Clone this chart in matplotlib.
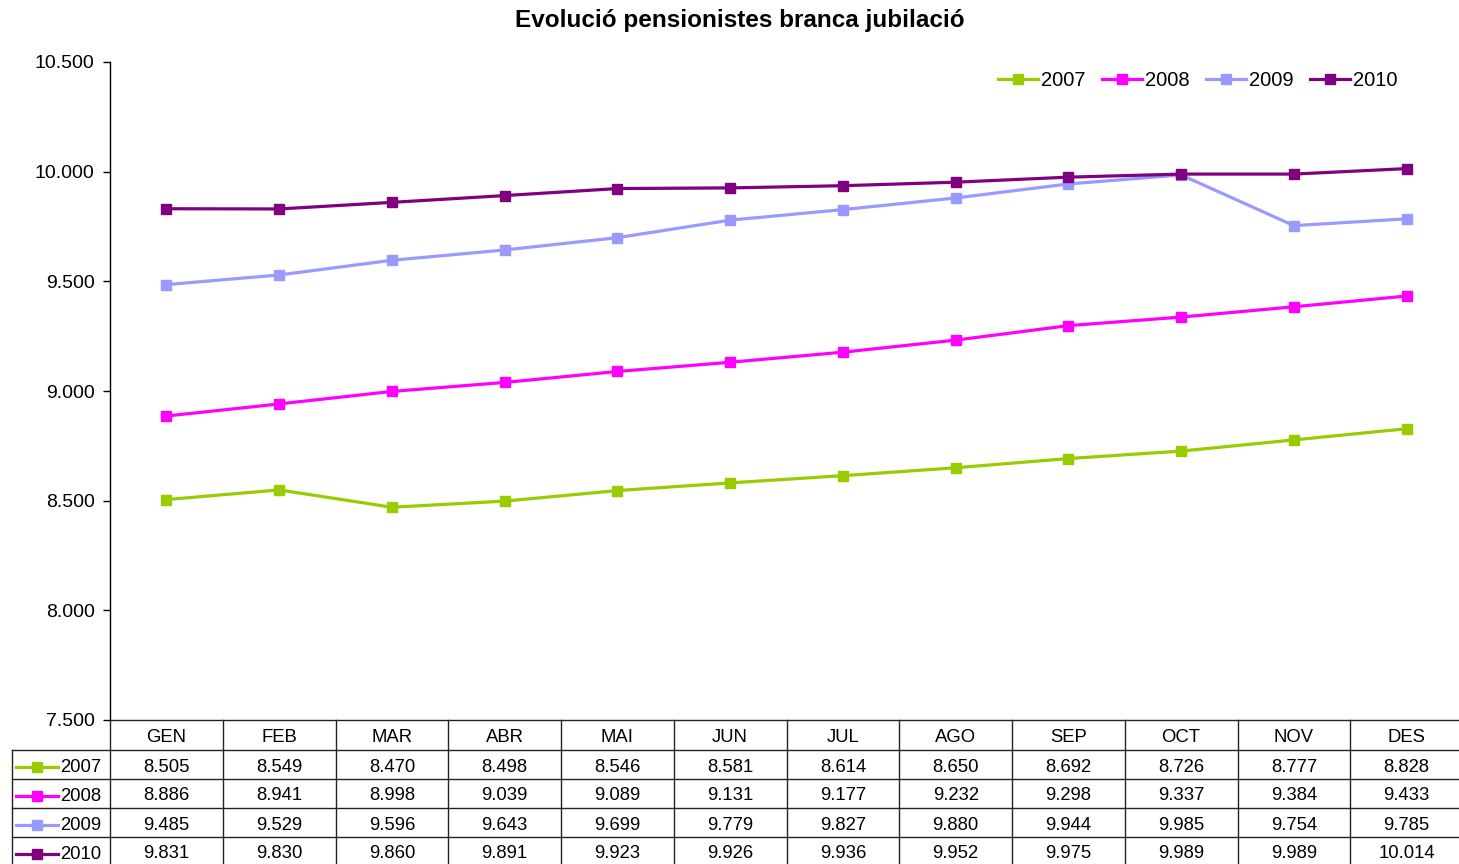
import matplotlib.pyplot as plt
import numpy as np
from matplotlib.lines import Line2D
from matplotlib.ticker import FuncFormatter

plt.rcParams['font.family'] = ['Liberation Sans', 'DejaVu Sans']

months = ['GEN', 'FEB', 'MAR', 'ABR', 'MAI', 'JUN', 'JUL', 'AGO', 'SEP', 'OCT', 'NOV', 'DES']
years = ['2007', '2008', '2009', '2010']
v2007 = [8505, 8549, 8470, 8498, 8546, 8581, 8614, 8650, 8692, 8726, 8777, 8828]
v2008 = [8886, 8941, 8998, 9039, 9089, 9131, 9177, 9232, 9298, 9337, 9384, 9433]
v2009 = [9485, 9529, 9596, 9643, 9699, 9779, 9827, 9880, 9944, 9985, 9754, 9785]
v2010 = [9831, 9830, 9860, 9891, 9923, 9926, 9936, 9952, 9975, 9989, 9989, 10014]
series = [v2007, v2008, v2009, v2010]
colors = ['#99CC00', '#FF00FF', '#9999FF', '#800080']


def fmt(v):
    return f'{v:,.0f}'.replace(',', '.')


W, H = 1459, 864
fig = plt.figure(figsize=(W / 100, H / 100), dpi=100)
left, right, top, bottom = 110, 1463, 62, 720
ax = fig.add_axes([left / W, 1 - bottom / H, (right - left) / W, (bottom - top) / H])
ax_h = bottom - top
ax_w = right - left

x = np.arange(len(months))
for vals, col, yr in zip(series, colors, years):
    ax.plot(x, vals, color=col, lw=2.3, marker='s', ms=6.5, label=yr, clip_on=False)

ax.set_xlim(-0.5, 11.5)
ax.set_ylim(7500, 10500)
ax.set_yticks(np.arange(7500, 10501, 500))
ax.yaxis.set_major_formatter(FuncFormatter(lambda v, p: fmt(v)))
ax.tick_params(axis='y', labelsize=14, length=5, width=1, pad=6)
ax.set_xticks([])
for s in ['top', 'right', 'bottom']:
    ax.spines[s].set_visible(False)
ax.spines['left'].set_linewidth(1)

ax.legend(loc='upper right', bbox_to_anchor=(0.962, 1.008), ncol=4, frameon=False,
          fontsize=14.5, handlelength=2.0, handletextpad=0.15, columnspacing=0.8,
          markerscale=1.0, borderaxespad=0.3)

fig.suptitle('Evolució pensionistes branca jubilació', fontsize=17.5, fontweight='bold',
             x=740 / W, y=1 - 20 / H, va='center')

# data table under the plot
trans = ax.get_xaxis_transform()
header_h = 30
row_h = 29


def ay(px):
    # pixels below the bottom of the plot area -> axes fraction
    return -px / ax_h


def axx(px):
    return (px - left) / ax_w


lc = '#222222'
lw = 1.0
bottom_px = H - bottom + 5
# horizontal lines
ax.plot([-0.5, 11.5], [0, 0], transform=trans, color=lc, lw=lw, clip_on=False)
for i in range(len(years) + 1):
    y = ay(header_h + i * row_h)
    ax.plot([axx(12), 1.0], [y, y], transform=ax.transAxes, color=lc, lw=lw, clip_on=False)
# vertical lines
for b in np.arange(-0.5, 12.0, 1.0):
    ax.plot([b, b], [0, ay(bottom_px)], transform=trans, color=lc, lw=lw, clip_on=False)
ax.plot([axx(12), axx(12)], [ay(header_h), ay(bottom_px)], transform=ax.transAxes,
        color=lc, lw=lw, clip_on=False)

for j, m in enumerate(months):
    ax.text(j, ay(header_h / 2 + 2), m, transform=trans, ha='center', va='center',
            fontsize=13.3, clip_on=False)

for i, (vals, col, yr) in enumerate(zip(series, colors, years)):
    yc = ay(header_h + i * row_h + row_h / 2 + 2.5)
    for j, v in enumerate(vals):
        ax.text(j, yc, fmt(v), transform=trans, ha='center', va='center',
                fontsize=13.3, clip_on=False)
    ly = ay(header_h + i * row_h + row_h / 2 + 2)
    ax.add_line(Line2D([axx(16), axx(58)], [ly, ly], transform=ax.transAxes, color=col,
                       lw=2.3, clip_on=False))
    ax.add_line(Line2D([axx(37)], [ly], transform=ax.transAxes, color=col, marker='s',
                       ms=6.5, clip_on=False))
    ax.text(axx(60), ay(header_h + i * row_h + row_h / 2 + 3), yr, transform=ax.transAxes,
            ha='left', va='center', fontsize=13.3, clip_on=False)

fig.savefig('out.png', dpi=100)
